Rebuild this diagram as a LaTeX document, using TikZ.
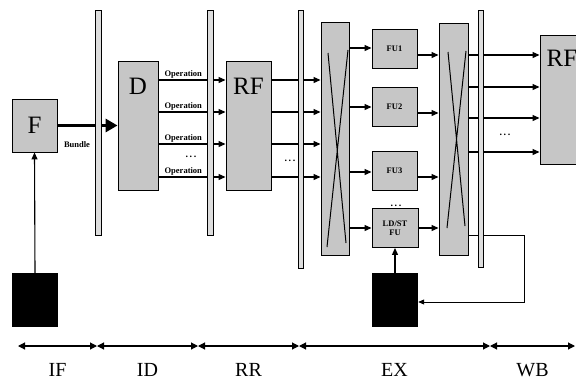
\documentclass[tikz,border=0pt]{standalone}
\usepackage{fontspec}
\setmainfont{Liberation Serif}
\usetikzlibrary{arrows.meta,calc}
\definecolor{pipegray}{HTML}{C6C6C6}
\definecolor{latchgray}{HTML}{DDDDDD}

\tikzset{
  unitbox/.style={draw,fill=pipegray,line width=0.9pt,inner sep=0pt},
  fubox/.style={unitbox,minimum width=45pt,minimum height=39pt,align=center,
    font=\fontsize{8.5}{9}\selectfont\bfseries},
  latchbar/.style={draw,fill=latchgray,line width=0.7pt,minimum width=5.5pt,inner sep=0pt},
  membox/.style={fill=black,inner sep=0pt,minimum width=46pt,minimum height=54pt},
  bigtxt/.style={font=\fontsize{25}{25}\selectfont},
  smalltxt/.style={font=\fontsize{8.5}{8.5}\selectfont\bfseries,inner sep=1pt},
  dotstxt/.style={font=\fontsize{10}{10}\selectfont\bfseries,inner sep=0pt},
  sig/.style={line width=1.1pt,-{Triangle[length=7pt,width=6pt]}},
  bundlearrow/.style={line width=3pt,-{Triangle[length=12pt,width=13pt]}},
  stagearrow/.style={line width=1.1pt,{Triangle[length=7pt,width=7pt]}-{Triangle[length=7pt,width=7pt]}},
  stagelbl/.style={midway,yshift=-24pt,font=\fontsize{20}{20}\selectfont}
}

\begin{document}
\begin{tikzpicture}[x=1pt,y=-1pt]
  \useasboundingbox (0,0) rectangle (576,383);
  \clip (0,0) rectangle (576,383);

  % fetch and memories
  \node[unitbox,minimum width=45pt,minimum height=53pt,bigtxt] (F) at (34.5,125.5) {F};
  \node[membox] (Mema) at (35,300) {};
  \node[membox] (Memb) at (395,300) {};

  % decode and register read
  \node[unitbox,minimum width=40pt,minimum height=129pt] (D) at (138,125.5) {};
  \node[bigtxt] at ($(D.north)+(0,26)$) {D};
  \node[unitbox,minimum width=45pt,minimum height=129pt] (RFa) at (248.5,125.5) {};
  \node[bigtxt] at ($(RFa.north)+(0,26)$) {RF};

  % crossbars
  \node[unitbox,minimum width=28pt,minimum height=233pt] (XBa) at (335,138.5) {};
  \draw[line width=1pt] (328,53) -- (346,243) (348,50) -- (327,247);
  \node[unitbox,minimum width=29pt,minimum height=232pt] (XBb) at (453.5,139) {};
  \draw[line width=1pt] (448,52) -- (465,226) (466,51) -- (447,228);

  % functional units
  \foreach \n/\y in {FU1/48.5,FU2/107,FU3/171}
    \node[fubox] (\n) at (394.5,\y) {\n};
  \node[fubox,minimum width=46pt] (LDST) at (395,228) {LD/ST\\FU};
  \node[dotstxt] at (396,206) {.\,.\,.};

  % write back register file
  \node[unitbox,minimum width=44pt,minimum height=129pt] (RFb) at (562,99.5) {};
  \node[bigtxt] at ($(RFb.north)+(0,24)$) {RF};

  % connectors
  \draw[bundlearrow] (F.east) -- (D.west);
  \node[smalltxt] at (77,145) {Bundle};
  \draw[sig] (Mema.north) -- (F.south);
  \draw[sig] (Memb.north) -- (LDST.south);

  \foreach \y in {80,112,144,177}
    \draw[sig] (D.east|-0,\y) -- node[pos=0.37,above,smalltxt]{Operation} (RFa.west|-0,\y);
  \node[dotstxt] at (191,157) {.\,.\,.};

  \foreach \y in {80,112,144,177}
    \draw[sig] (RFa.east|-0,\y) -- (XBa.west|-0,\y);
  \node[dotstxt] at (290,161) {.\,.\,.};

  \foreach \n/\y in {FU1/48,FU2/107,FU3/172,LDST/228}
    \draw[sig] (XBa.east|-0,\y) -- (\n.west|-0,\y);
  \foreach \n/\y in {FU1/55,FU2/113,FU3/177,LDST/228}
    \draw[sig] (\n.east|-0,\y) -- (XBb.west|-0,\y);

  \foreach \y in {55,87,118,152}
    \draw[sig] (XBb.east|-0,\y) -- (RFb.west|-0,\y);
  \node[dotstxt] at (505,135) {.\,.\,.};

  \coordinate (wbturn) at (524,235);
  \draw[line width=0.9pt,-{Triangle[length=6pt,width=5pt]}]
    (XBb.east|-wbturn) -- (wbturn) |- (Memb.east|-0,302);

  % pipeline latches
  \node[latchbar,minimum height=225pt] (La) at (98.5,122.5) {};
  \node[latchbar,minimum height=225pt] (Lb) at (210.5,122.5) {};
  \node[latchbar,minimum height=258pt] (Lc) at (301,139) {};
  \node[latchbar,minimum height=257pt] (Ld) at (481,138.5) {};

  % stages
  \coordinate (s0) at (18,346);
  \coordinate (s1) at (97,346);
  \coordinate (s2) at (198,346);
  \coordinate (s3) at (299,346);
  \coordinate (s4) at (490,346);
  \coordinate (s5) at (575,346);
  \draw[stagearrow] (s0) -- node[stagelbl]{IF} (s1);
  \draw[stagearrow] (s1) -- node[stagelbl]{ID} (s2);
  \draw[stagearrow] (s2) -- node[stagelbl]{RR} (s3);
  \draw[stagearrow] (s3) -- node[stagelbl]{EX} (s4);
  \draw[stagearrow] (s4) -- node[stagelbl]{WB} (s5);
\end{tikzpicture}
\end{document}
